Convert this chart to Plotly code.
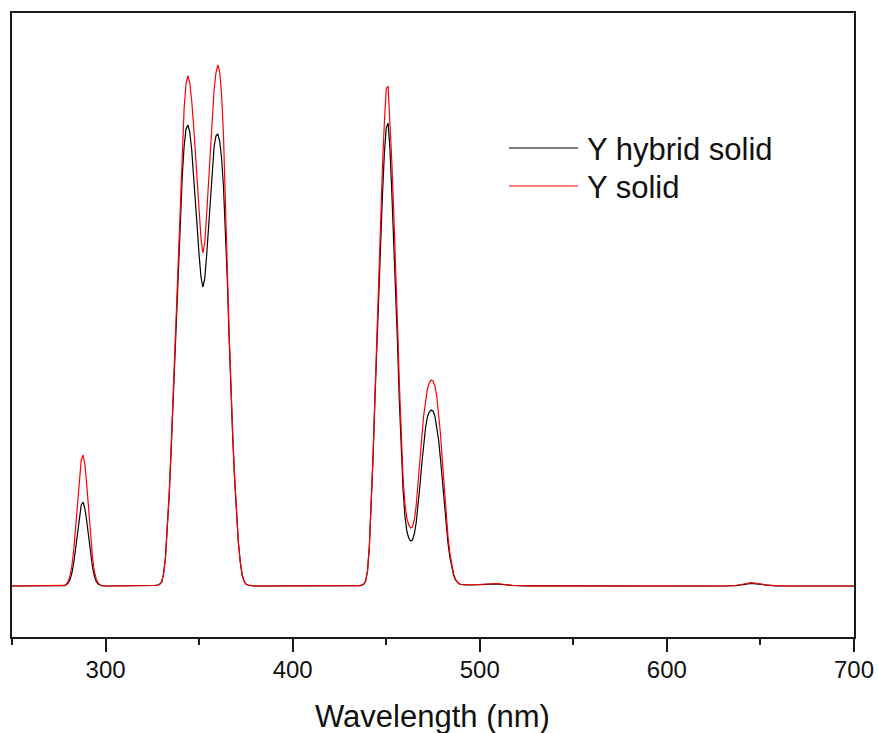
import plotly.graph_objects as go

# ---------------- data ----------------
wavelength = [250, 260, 270, 275, 277, 278, 279, 280, 281, 282, 283, 284, 285, 286, 287, 288, 289, 290,
              291, 292, 293, 294, 295, 296, 297, 298, 300, 305, 315, 322, 326, 328, 329, 330, 331, 332,
              333, 334, 335, 336, 337, 338, 339, 340, 341, 342, 343, 344, 345, 346, 347, 348, 349, 350,
              351, 352, 353, 354, 355, 356, 357, 358, 359, 360, 361, 362, 363, 364, 365, 366, 367, 368,
              369, 370, 371, 372, 373, 374, 375, 376, 378, 382, 400, 420, 432, 436, 437, 438, 439, 440,
              441, 442, 443, 444, 445, 446, 447, 448, 449, 450, 451, 452, 453, 454, 455, 456, 457, 458,
              459, 460, 461, 462, 463, 464, 465, 466, 467, 468, 469, 470, 471, 472, 473, 474, 475, 476,
              477, 478, 479, 480, 481, 482, 483, 484, 485, 486, 487, 488, 489, 490, 492, 495, 500, 505,
              509, 513, 518, 525, 550, 600, 630, 637, 641, 645, 649, 653, 658, 665, 700]

y_hybrid_solid = [0, 0, 0, 0, 0.1, 0.4, 1.2, 2.9, 6.4, 13, 23, 38, 54, 70, 81, 84, 77, 64,
                  47, 31, 19, 10, 4.7, 2, 0.8, 0.3, 0, 0, 0, 0, 0.5, 1, 2, 4, 12, 28,
                  54, 90, 133, 180, 232, 280, 325, 368, 410, 440, 457, 461, 454, 437, 413, 386, 358, 331,
                  309, 299, 307, 330, 360, 391, 418, 439, 450, 452, 445, 428, 400, 362, 310, 250, 192, 147,
                  106, 71, 43, 24, 11, 5, 2, 1, 0.3, 0, 0, 0, 0, 0.3, 0.8, 2, 5, 15,
                  40, 81, 130, 188, 243, 296, 345, 392, 432, 458, 463, 437, 393, 347, 302, 244, 186, 136,
                  96, 70, 55, 48, 45, 46, 52, 63, 80, 100, 122, 142, 158, 169, 174, 176, 175, 170,
                  160, 146, 127, 105, 82, 61, 43, 29, 18, 11, 6, 3.5, 2.2, 1.5, 1, 1, 1.3, 1.8,
                  2.2, 1.3, 0.5, 0.2, 0, 0, 0, 0.4, 1.5, 2.5, 1.8, 0.8, 0.2, 0, 0]

y_solid = [0, 0, 0, 0, 0.2, 0.6, 1.8, 4.5, 10, 20, 36, 59, 85, 109, 126, 131, 121, 100,
           74, 49, 29, 15, 7.3, 3.1, 1.2, 0.4, 0, 0, 0, 0, 0.5, 1, 2, 4, 12, 28,
           55, 92, 136, 185, 240, 290, 340, 388, 440, 478, 502, 510, 503, 486, 462, 436, 406, 376,
           348, 333, 343, 371, 405, 438, 470, 496, 513, 521, 514, 492, 452, 395, 322, 255, 196, 150,
           108, 72, 44, 24, 11, 5, 2, 1, 0.3, 0, 0, 0, 0, 0.3, 0.8, 2, 5, 15,
           40, 82, 132, 192, 252, 312, 368, 420, 463, 497, 500, 468, 424, 375, 326, 264, 204, 150,
           108, 82, 68, 61, 58, 59, 66, 80, 100, 123, 148, 170, 186, 197, 203, 206, 205, 200,
           190, 174, 152, 125, 98, 72, 50, 33, 20, 12, 7, 4, 2.5, 1.5, 1, 1, 1.5, 2,
           2.5, 1.5, 0.5, 0.2, 0, 0, 0, 0.5, 2, 3.5, 2.5, 1, 0.3, 0, 0]

series_names = ["Y hybrid solid", "Y solid"]
series_colors = ["#000000", "#ff0000"]
x_tick_values = [300, 400, 500, 600, 700]
x_tick_labels = ["300", "400", "500", "600", "700"]
x_range = [250, 700]
y_range = [-51, 573]
x_title = "Wavelength (nm)"

FONT = "Arial, 'Liberation Sans', Helvetica, sans-serif"
W, H = 878, 733
ML, MR, MT, MB = 12, 24, 13, 96
PW, PH = W - ML - MR, H - MT - MB

def px_x(px):
    return (px - ML) / PW

def px_y(py):
    return (H - MB - py) / PH

fig = go.Figure()
for vals, name, col in zip([y_hybrid_solid, y_solid], series_names, series_colors):
    fig.add_trace(go.Scatter(x=wavelength, y=vals, mode="lines", name=name,
                             line=dict(color=col, width=1.2), showlegend=False))

# manual legend (line samples + labels)
legend_rows = [148, 186]
for ypix, name, col in zip(legend_rows, series_names, series_colors):
    fig.add_shape(type="line", xref="paper", yref="paper",
                  x0=px_x(509), x1=px_x(578), y0=px_y(ypix), y1=px_y(ypix),
                  line=dict(color=col, width=1.2))
    fig.add_annotation(xref="paper", yref="paper", x=px_x(585), y=px_y(ypix + 1),
                       text=name, showarrow=False, xanchor="left", yanchor="middle",
                       font=dict(family=FONT, size=31, color="#111111"))

# axis title
fig.add_annotation(xref="paper", yref="paper", x=px_x(432), y=px_y(716),
                   text=x_title, showarrow=False, xanchor="center", yanchor="middle",
                   font=dict(family=FONT, size=31, color="#111111"))

fig.update_layout(
    width=W, height=H,
    margin=dict(l=ML, r=MR, t=MT, b=MB),
    paper_bgcolor="white", plot_bgcolor="white",
    showlegend=False,
    font=dict(family=FONT, color="#111111"),
)
fig.update_xaxes(
    range=x_range, tickmode="array", tickvals=x_tick_values, ticktext=x_tick_labels,
    ticks="outside", ticklen=13, tickwidth=2, tickcolor="#1a1a1a",
    minor=dict(dtick=50, tick0=250, ticks="outside", ticklen=6, tickwidth=2, tickcolor="#1a1a1a"),
    showline=True, linewidth=2, linecolor="#1a1a1a", mirror=True,
    showgrid=False, zeroline=False, automargin=False,
    tickfont=dict(family=FONT, size=24, color="#111111"),
    ticklabelstandoff=-3,
)
fig.update_yaxes(
    range=y_range, showticklabels=False, ticks="",
    showline=True, linewidth=2, linecolor="#1a1a1a", mirror=True,
    showgrid=False, zeroline=False, automargin=False,
)

fig.write_html("out.html")
